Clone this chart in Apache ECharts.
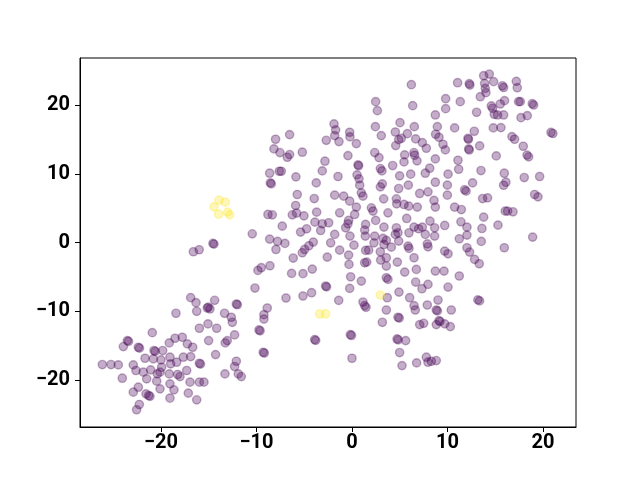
<!DOCTYPE html>
<html>
<head>
<meta charset="utf-8">
<script src="https://cdn.jsdelivr.net/npm/echarts@6/dist/echarts.min.js"></script>
<style>
  html, body { margin: 0; padding: 0; background: #fff; }
  #chart { width: 640px; height: 480px; }
</style>
</head>
<body>
<div id="chart"></div>
<script>
// tick positions shown on each axis
const xTicks = [-20, -10, 0, 10, 20];
const yTicks = [-20, -10, 0, 10, 20];

// points of class 0 (dark purple)
const purplePoints = [
  // upper-left part of the band
  [-6.53,15.74],[-8.00,15.06],[-2.69,14.91],[-8.17,13.65],[-7.54,13.12],[-6.53,12.83],[-6.77,12.44],
  [-5.20,13.17],[-2.83,11.86],[-8.62,10.11],[-7.61,10.40],[-7.40,10.40],[-5.87,9.58],[-3.11,10.45],
  // upper middle
  [6.22,23.01],[2.48,20.54],[2.66,19.23],[6.36,19.96],[9.81,20.97],[9.81,19.52],[-1.88,17.29],
  [-1.71,16.42],[-1.81,15.59],[-1.36,14.72],[-0.24,16.08],[-0.21,15.40],[0.46,14.43],[2.45,16.90],
  [3.07,15.59],[5.03,17.48],[4.54,16.12],[5.17,15.20],[4.89,15.01],[5.80,15.88],[6.53,16.90],
  [6.67,15.11],[7.37,14.57],[4.58,14.14],[7.79,13.75],[8.73,18.60],[8.94,16.90],[8.76,15.79],
  [9.11,15.35],[9.53,14.33],[9.78,13.51],[-0.42,12.68],[2.38,13.12],[2.83,12.39],[5.52,12.78],
  [6.49,13.12],[6.56,12.73],[6.81,11.91],[5.45,11.76],[8.73,12.20],[0.63,11.32],[0.70,11.20],
  [2.97,10.79],[3.14,10.45],[4.26,11.23],[8.14,10.84],[7.68,10.11],[-1.46,9.63],[0.53,9.87],
  [0.74,9.29],[4.99,9.73],[6.15,9.97],[10.06,9.97],
  // upper right
  [13.79,24.32],[14.38,24.56],[11.06,23.30],[12.35,22.96],[12.28,23.16],[13.89,23.20],[14.83,23.45],
  [13.96,22.48],[14.03,21.85],[13.44,21.26],[15.75,22.85],[15.88,22.60],[17.21,23.49],[17.31,22.57],
  [11.34,20.54],[14.59,19.91],[14.73,19.57],[15.53,20.20],[15.98,20.68],[17.45,20.54],[17.63,20.54],
  [18.88,20.25],[19.02,20.05],[13.05,18.99],[14.90,18.69],[15.25,18.60],[15.88,18.60],[17.70,18.21],
  [18.36,18.50],[10.75,16.71],[12.81,16.22],[14.80,16.71],[15.60,16.76],[16.75,15.45],[17.03,15.06],
  [12.15,15.20],[12.20,15.05],[12.22,13.65],[12.28,13.50],[13.37,14.09],[17.94,14.04],[20.84,16.05],
  [21.04,15.90],[15.11,12.63],[18.33,12.75],[18.50,12.50],[11.10,12.00],[11.17,10.69],[13.51,10.50],
  [15.95,10.11],[18.04,9.48],[19.65,9.63],
  // left stragglers
  [-16.61,-1.33],[-16.00,-1.04],[-16.89,-8.02],[-16.33,-8.75],
  // middle left
  [-8.55,8.70],[-8.45,8.55],[-3.74,8.70],[-5.73,7.01],[-3.95,6.42],[-5.90,5.41],[-8.80,4.10],
  [-8.34,4.05],[-6.25,4.05],[-5.80,4.29],[-5.03,3.90],[-3.70,4.44],[-3.88,2.98],[-3.11,2.74],
  [-7.30,2.40],[-10.44,1.28],[-5.38,1.53],[-4.75,2.01],[-3.28,1.77],[-8.62,0.51],[-7.79,0.17],
  [-7.02,-0.12],[-7.96,-1.00],[-14.56,-0.12],[-14.45,-0.22],[-4.05,0.07],[-4.51,-0.46],[-4.96,-1.00],
  [-5.20,-1.48],[-6.15,-2.25],[-9.50,-3.66],[-9.85,-4.05],[-8.59,-3.37],[-6.32,-4.49],[-5.13,-4.53],
  [-4.16,-3.86],[-10.16,-6.62],[-14.38,-8.41],[-6.91,-8.07],[-5.13,-7.78],[-4.23,-7.30],[-2.76,-6.33],
  [-2.66,-6.45],[-2.59,-2.11],
  // dense centre
  [0.81,8.37],[2.97,8.13],[3.18,8.56],[4.89,7.88],[5.90,8.37],[8.73,8.80],[9.99,8.37],[-1.81,6.91],
  [-0.87,6.77],[-0.24,6.04],[0.98,7.25],[1.15,6.77],[3.32,6.38],[4.65,6.38],[4.68,5.65],[5.45,5.56],
  [7.09,7.16],[7.96,7.40],[9.99,6.91],[-1.29,4.34],[0.46,5.17],[0.28,4.10],[2.03,5.07],[2.20,4.59],
  [3.77,4.34],[5.94,5.31],[6.84,5.17],[8.59,6.14],[8.73,5.17],[-2.44,2.89],[-0.35,3.23],[-0.42,2.74],
  [-0.66,2.16],[1.43,2.65],[2.48,3.23],[3.35,2.26],[4.65,2.16],[4.82,1.43],[5.73,3.52],[6.50,2.26],
  [6.98,2.02],[7.37,2.26],[8.17,3.13],[8.66,2.16],[9.71,2.50],[-1.81,1.19],[-0.21,0.95],[1.33,1.82],
  [1.40,0.95],[2.38,0.95],[3.25,0.61],[3.60,0.32],[4.54,1.19],[4.89,0.22],[5.97,1.43],[7.68,1.19],
  [8.66,0.95],[-2.23,-0.03],[0.21,-0.37],[2.31,-0.03],[3.35,-0.27],[4.12,-0.66],[5.87,-0.51],
  [5.97,-0.85],[7.89,-0.18],[7.96,-0.61],[9.71,-1.24],[10.06,-1.63],[-1.29,-1.10],[-0.35,-1.82],
  [1.43,-1.14],[1.75,-1.10],[2.97,-1.34],[3.00,-2.55],[3.60,-2.21],[4.75,-2.84],[6.50,-2.21],
  [-0.31,-3.18],[1.33,-2.94],[1.54,-2.84],[3.60,-3.42],[5.52,-4.30],[6.74,-3.91],[8.73,-4.15],
  [9.64,-4.15],[-0.14,-4.98],[0.98,-5.61],[3.60,-5.12],[3.77,-5.36],[6.67,-5.75],[7.96,-6.09],
  [10.06,-6.48],[-0.24,-6.67],[3.70,-8.03],[4.92,-7.21],[6.04,-8.03],[7.33,-6.72],[9.01,-8.37],
  [-1.39,-8.42],[1.15,-8.66],
  // middle right
  [12.63,8.70],[11.80,7.70],[11.95,7.50],[15.88,8.36],[16.12,8.80],[13.68,6.42],[14.20,6.52],
  [19.13,7.01],[19.48,6.67],[10.75,5.16],[11.45,4.82],[16.05,4.58],[16.30,4.58],[16.86,4.49],
  [13.79,3.71],[11.41,3.03],[12.04,2.25],[13.61,2.06],[15.29,2.54],[12.04,1.09],[11.24,0.56],
  [13.54,0.17],[18.92,0.80],[12.04,-0.75],[12.32,-1.38],[15.95,-0.75],[12.84,-2.45],[13.33,-3.08],
  [11.24,-4.87],[13.18,-8.35],[13.36,-8.50],
  // lower-left cluster
  [-18.43,-10.30],[-16.26,-10.01],[-15.98,-12.48],[-20.91,-13.12],[-23.52,-14.28],[-23.40,-14.40],
  [-23.94,-15.15],[-22.37,-15.25],[-22.25,-15.38],[-20.73,-15.73],[-20.60,-15.85],[-19.82,-15.73],
  [-19.13,-14.62],[-18.53,-13.94],[-17.77,-13.79],[-17.24,-14.76],[-16.68,-15.25],[-26.14,-17.77],
  [-25.23,-17.77],[-24.47,-17.82],[-24.05,-19.76],[-22.90,-17.82],[-22.62,-18.64],[-21.85,-18.88],
  [-21.67,-16.85],[-20.80,-16.95],[-20.00,-17.09],[-19.93,-18.16],[-20.10,-18.88],[-21.08,-18.55],
  [-20.38,-19.13],[-20.45,-20.19],[-19.06,-16.70],[-18.99,-17.67],[-19.13,-19.13],[-19.06,-20.58],
  [-18.36,-17.43],[-18.25,-19.22],[-18.01,-19.52],[-17.66,-16.70],[-16.89,-16.61],[-17.31,-18.64],
  [-15.98,-17.58],[-15.86,-17.70],[-15.98,-20.34],[-15.50,-20.34],[-16.96,-20.34],[-21.50,-19.85],
  [-22.37,-21.07],[-22.90,-21.79],[-21.57,-22.04],[-21.29,-22.28],[-21.15,-22.40],[-20.10,-21.31],
  [-18.64,-21.45],[-19.06,-22.67],[-17.14,-21.94],[-16.26,-22.91],[-22.27,-23.59],[-22.55,-24.36],
  // lower middle-left
  [-15.15,-9.53],[-15.05,-9.40],[-14.87,-9.67],[-12.11,-8.95],[-12.00,-9.05],[-13.34,-10.30],
  [-12.64,-10.88],[-12.53,-11.61],[-15.08,-11.85],[-14.17,-12.48],[-8.87,-9.53],[-9.22,-10.50],
  [-9.22,-11.13],[-9.74,-12.73],[-9.62,-12.85],[-12.29,-13.45],[-15.01,-14.28],[-13.06,-14.28],
  [-13.27,-14.62],[-9.29,-15.98],[-9.18,-16.10],[-14.28,-16.32],[-12.11,-17.29],[-12.29,-18.06],
  [-13.30,-19.13],[-11.90,-19.13],[-11.59,-19.52],[-3.91,-14.13],[-3.80,-14.25],
  // lower middle
  [1.33,-9.19],[1.47,-9.43],[3.60,-9.82],[6.50,-9.19],[6.63,-9.82],[7.89,-9.09],[8.83,-9.82],
  [8.95,-9.95],[10.40,-9.82],[3.18,-11.61],[4.82,-10.88],[4.95,-11.00],[7.09,-11.95],[7.51,-11.76],
  [8.83,-11.95],[9.11,-11.37],[9.22,-11.50],[9.71,-11.85],[10.30,-12.24],[-0.17,-13.41],[-0.05,-13.53],
  [4.72,-14.04],[4.84,-14.16],[5.62,-14.28],[4.99,-16.02],[0.00,-16.85],[5.24,-17.92],[6.77,-17.53],
  [7.79,-16.70],[7.96,-17.43],[8.31,-17.29],[8.83,-17.19]
];

// points of class 1 (yellow)
const yellowPoints = [
  [-13.93,6.18],[-13.27,5.89],[-14.45,5.21],[-13.96,4.14],[-13.02,4.44],[-12.81,4.05],
  [2.97,-7.64],[-3.39,-10.40],[-2.76,-10.40]
];

const chart = echarts.init(document.getElementById("chart"), null, { renderer: "canvas" });

const minusSign = (v) => String(v).replace("-", "\u2212");

const tickFont = {
  color: "#000",
  fontSize: 20,
  fontWeight: "bold",
  fontFamily: "Roboto",
};

const option = {
  animation: false,
  backgroundColor: "#fff",
  grid: {
    left: 80,
    right: 64,
    top: 58,
    bottom: 53,
    show: true,
    borderColor: "#000",
    borderWidth: 1,
  },
  xAxis: {
    type: "value",
    min: -28.48,
    max: 23.46,
    splitLine: { show: false },
    axisLine: { show: true, onZero: false, lineStyle: { color: "#000", width: 1 } },
    axisTick: { show: true, length: 5, lineStyle: { color: "#000", width: 1 }, customValues: xTicks },
    axisLabel: { ...tickFont, margin: 6, customValues: xTicks, formatter: minusSign },
  },
  yAxis: {
    type: "value",
    min: -26.87,
    max: 26.9,
    splitLine: { show: false },
    axisLine: { show: true, onZero: false, lineStyle: { color: "#000", width: 1 } },
    axisTick: { show: true, length: 5, lineStyle: { color: "#000", width: 1 }, customValues: yTicks },
    axisLabel: { ...tickFont, margin: 10, customValues: yTicks, formatter: minusSign },
  },
  series: [
    {
      type: "scatter",
      data: purplePoints,
      symbolSize: 8.3,
      itemStyle: {
        color: "rgba(68,1,84,0.4)",
        borderColor: "rgba(68,1,84,0.4)",
        borderWidth: 1.4,
      },
    },
    {
      type: "scatter",
      data: yellowPoints,
      symbolSize: 8.3,
      itemStyle: {
        color: "rgba(253,231,37,0.4)",
        borderColor: "rgba(253,231,37,0.4)",
        borderWidth: 1.4,
      },
    },
  ],
};

chart.setOption(option);
</script>
</body>
</html>
